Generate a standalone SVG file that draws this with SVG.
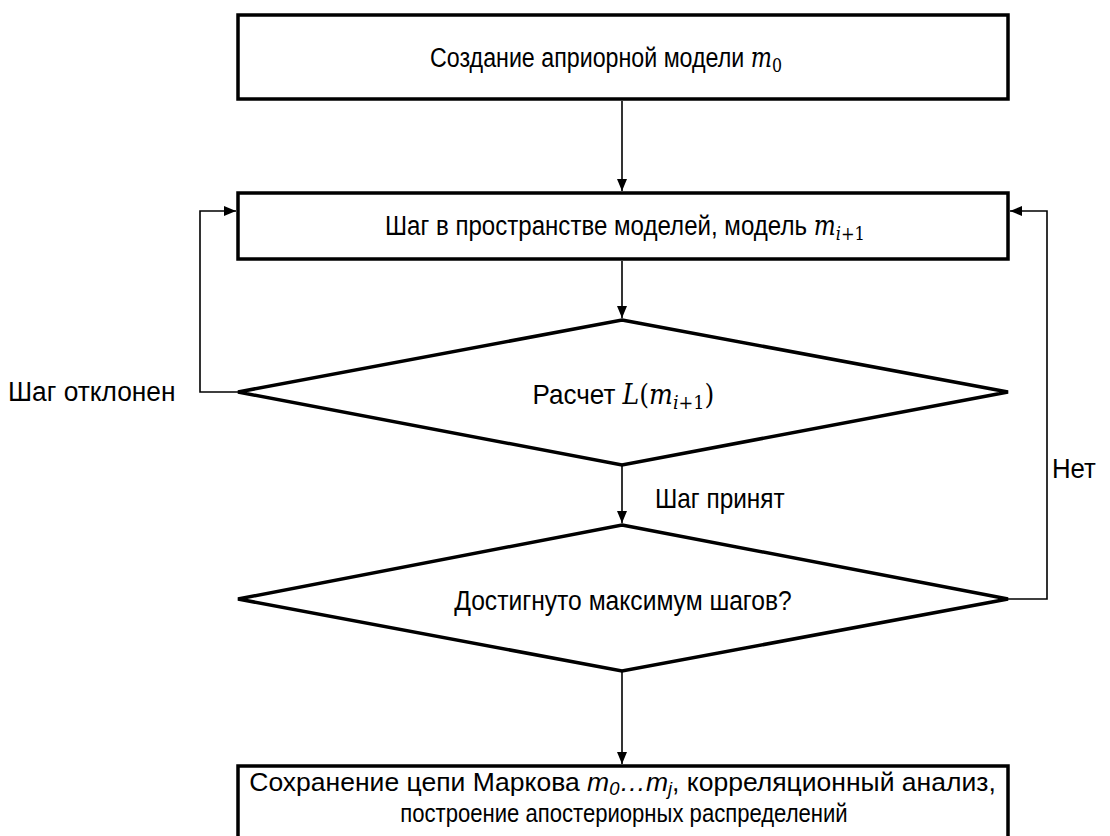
<svg xmlns="http://www.w3.org/2000/svg" width="1110" height="836" viewBox="0 0 1110 836">
<style>
.node{fill:#fff;stroke:#000;stroke-width:3.5;stroke-linejoin:miter}
.con{fill:none;stroke:#000;stroke-width:1.6}
.t{font-family:"Liberation Sans",Arial,sans-serif;font-size:28px;fill:#000}
.b3{font-size:26px}
.m{font-family:"DejaVu Serif","Liberation Serif",serif;font-style:italic;font-size:27px}
.mu{font-family:"DejaVu Serif","Liberation Serif",serif;font-style:normal;font-size:27px}
.s{font-size:19px}
.si{font-style:italic}
.ss{font-size:18px}
</style>
<defs>
<marker id="arr" markerWidth="12" markerHeight="10" refX="12" refY="5" orient="auto" markerUnits="userSpaceOnUse">
<path d="M0,0 L12,5 L0,10 Z" fill="#000"/>
</marker>
</defs>
<rect width="1110" height="836" fill="#fff"/>
<g id="connectors">
<line class="con" x1="622" y1="101" x2="622" y2="191" marker-end="url(#arr)"/>
<line class="con" x1="622" y1="261" x2="622" y2="318" marker-end="url(#arr)"/>
<line class="con" x1="622" y1="466" x2="622" y2="523" marker-end="url(#arr)"/>
<line class="con" x1="622" y1="672" x2="622" y2="764" marker-end="url(#arr)"/>
<polyline class="con" points="238,392 200,392 200,211 236,211" marker-end="url(#arr)"/>
<polyline class="con" points="1008,599 1047,599 1047,211 1010,211" marker-end="url(#arr)"/>
<text class="t" transform="matrix(0.94 0 0 1 8 0)" x="0" y="401">Шаг отклонен</text>
<text class="t" transform="matrix(0.87 0 0 1 655 0)" x="0" y="508">Шаг принят</text>
<text class="t" transform="matrix(0.92 0 0 1 1052 0)" x="0" y="478">Нет</text>
</g>
<g id="n1">
<rect class="node" x="238" y="15" width="770" height="84"/>
<text class="t" transform="matrix(0.83 0 0 1 606 0)" x="0" y="67" text-anchor="middle">Создание априорной модели <tspan class="m">m</tspan><tspan class="mu s" dy="5">0</tspan></text>
</g>
<g id="n2">
<rect class="node" x="238" y="193" width="770" height="66"/>
<text class="t" transform="matrix(0.86 0 0 1 625 0)" x="0" y="235" text-anchor="middle">Шаг в пространстве моделей, модель <tspan class="m">m</tspan><tspan class="m s" dy="5">i</tspan><tspan class="mu s">+1</tspan></text>
</g>
<g id="n3">
<polygon class="node" points="622,320 1008,392 622,465 238,392"/>
<text class="t" transform="matrix(0.93 0 0 1 623.5 0)" x="0" y="404" text-anchor="middle">Расчет <tspan class="m">L</tspan><tspan class="mu">(</tspan><tspan class="m">m</tspan><tspan class="m s" dy="5">i</tspan><tspan class="mu s">+1</tspan><tspan class="mu" dy="-5">)</tspan></text>
</g>
<g id="n4">
<polygon class="node" points="622,525 1008,599 622,671 238,599"/>
<text class="t" transform="matrix(0.88 0 0 1 623 0)" x="0" y="610" text-anchor="middle">Достигнуто  максимум  шагов?</text>
</g>
<g id="n5">
<rect class="node" x="238" y="766" width="770" height="90"/>
<text class="t b3" transform="matrix(1.02 0 0 1 622.5 0)" x="0" y="791" text-anchor="middle">Сохранение цепи Маркова <tspan class="si">m</tspan><tspan class="si ss" dy="4">0</tspan><tspan class="si" dy="-4">…m</tspan><tspan class="si ss" dy="4">j</tspan><tspan dy="-4">, корреляционный анализ,</tspan></text>
<text class="t b3" transform="matrix(0.85 0 0 1 624 0)" x="0" y="822" text-anchor="middle">построение апостериорных распределений</text>
</g>
</svg>
